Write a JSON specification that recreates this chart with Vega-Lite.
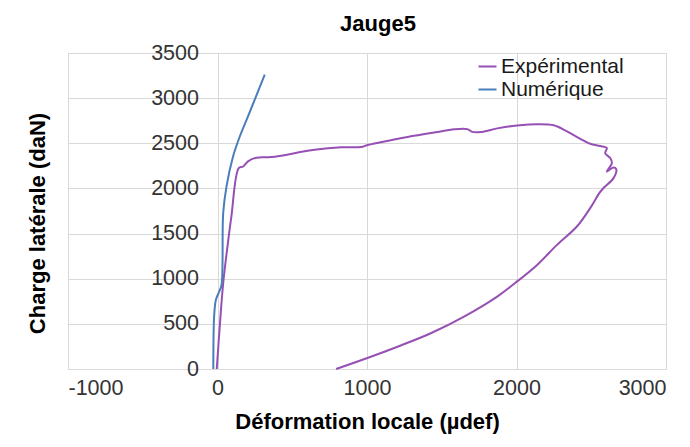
{
  "$schema": "https://vega.github.io/schema/vega-lite/v6.json",
  "width": 598,
  "height": 316,
  "autosize": {"type": "none"},
  "padding": {"left": 68, "top": 53, "right": 24, "bottom": 78},
  "background": "white",
  "title": {"text": "Jauge5", "font": "Liberation Sans", "fontSize": 22, "fontWeight": "bold", "color": "#000000", "offset": 6, "dx": 11},
  "data": {"values": [
    {"s": "Expérimental", "i": 0, "x": -5, "y": 0},
    {"s": "Expérimental", "i": 1, "x": 15, "y": 470},
    {"s": "Expérimental", "i": 2, "x": 38, "y": 950},
    {"s": "Expérimental", "i": 3, "x": 70, "y": 1400},
    {"s": "Expérimental", "i": 4, "x": 93, "y": 1690},
    {"s": "Expérimental", "i": 5, "x": 142, "y": 2225},
    {"s": "Expérimental", "i": 6, "x": 171, "y": 2243},
    {"s": "Expérimental", "i": 7, "x": 204, "y": 2300},
    {"s": "Expérimental", "i": 8, "x": 260, "y": 2340},
    {"s": "Expérimental", "i": 9, "x": 360, "y": 2347},
    {"s": "Expérimental", "i": 10, "x": 649, "y": 2428},
    {"s": "Expérimental", "i": 11, "x": 827, "y": 2455},
    {"s": "Expérimental", "i": 12, "x": 960, "y": 2458},
    {"s": "Expérimental", "i": 13, "x": 1004, "y": 2480},
    {"s": "Expérimental", "i": 14, "x": 1271, "y": 2570},
    {"s": "Expérimental", "i": 15, "x": 1493, "y": 2631},
    {"s": "Expérimental", "i": 16, "x": 1582, "y": 2655},
    {"s": "Expérimental", "i": 17, "x": 1671, "y": 2657},
    {"s": "Expérimental", "i": 18, "x": 1704, "y": 2626},
    {"s": "Expérimental", "i": 19, "x": 1760, "y": 2624},
    {"s": "Expérimental", "i": 20, "x": 1871, "y": 2665},
    {"s": "Expérimental", "i": 21, "x": 2004, "y": 2697},
    {"s": "Expérimental", "i": 22, "x": 2138, "y": 2712},
    {"s": "Expérimental", "i": 23, "x": 2249, "y": 2700},
    {"s": "Expérimental", "i": 24, "x": 2338, "y": 2631},
    {"s": "Expérimental", "i": 25, "x": 2427, "y": 2550},
    {"s": "Expérimental", "i": 26, "x": 2493, "y": 2495},
    {"s": "Expérimental", "i": 27, "x": 2560, "y": 2470},
    {"s": "Expérimental", "i": 28, "x": 2604, "y": 2447},
    {"s": "Expérimental", "i": 29, "x": 2593, "y": 2391},
    {"s": "Expérimental", "i": 30, "x": 2627, "y": 2336},
    {"s": "Expérimental", "i": 31, "x": 2638, "y": 2280},
    {"s": "Expérimental", "i": 32, "x": 2604, "y": 2187},
    {"s": "Expérimental", "i": 33, "x": 2649, "y": 2232},
    {"s": "Expérimental", "i": 34, "x": 2667, "y": 2214},
    {"s": "Expérimental", "i": 35, "x": 2649, "y": 2114},
    {"s": "Expérimental", "i": 36, "x": 2585, "y": 2010},
    {"s": "Expérimental", "i": 37, "x": 2555, "y": 1950},
    {"s": "Expérimental", "i": 38, "x": 2493, "y": 1782},
    {"s": "Expérimental", "i": 39, "x": 2404, "y": 1578},
    {"s": "Expérimental", "i": 40, "x": 2271, "y": 1375},
    {"s": "Expérimental", "i": 41, "x": 2138, "y": 1153},
    {"s": "Expérimental", "i": 42, "x": 1989, "y": 950},
    {"s": "Expérimental", "i": 43, "x": 1871, "y": 802},
    {"s": "Expérimental", "i": 44, "x": 1649, "y": 580},
    {"s": "Expérimental", "i": 45, "x": 1427, "y": 396},
    {"s": "Expérimental", "i": 46, "x": 1204, "y": 247},
    {"s": "Expérimental", "i": 47, "x": 998, "y": 119},
    {"s": "Expérimental", "i": 48, "x": 793, "y": 0},
    {"s": "Numérique", "i": 0, "x": -28, "y": 0},
    {"s": "Numérique", "i": 1, "x": -26, "y": 400},
    {"s": "Numérique", "i": 2, "x": -22, "y": 600},
    {"s": "Numérique", "i": 3, "x": -11, "y": 765},
    {"s": "Numérique", "i": 4, "x": 12, "y": 860},
    {"s": "Numérique", "i": 5, "x": 27, "y": 930},
    {"s": "Numérique", "i": 6, "x": 38, "y": 1725},
    {"s": "Numérique", "i": 7, "x": 60, "y": 2020},
    {"s": "Numérique", "i": 8, "x": 104, "y": 2354},
    {"s": "Numérique", "i": 9, "x": 149, "y": 2575},
    {"s": "Numérique", "i": 10, "x": 204, "y": 2797},
    {"s": "Numérique", "i": 11, "x": 316, "y": 3260}
  ]},
  "mark": {"type": "line", "strokeWidth": 2, "interpolate": "catmull-rom"},
  "encoding": {
    "x": {
      "field": "x", "type": "quantitative",
      "scale": {"domain": [-1000, 3000], "nice": false, "zero": false},
      "axis": {
        "title": "Déformation locale (µdef)",
        "values": [-1000, 0, 1000, 2000, 3000],
        "labelExpr": "'' + datum.value",
        "domain": false, "ticks": false,
        "labelPadding": 8, "titlePadding": 13
      }
    },
    "y": {
      "field": "y", "type": "quantitative",
      "scale": {"domain": [0, 3500], "nice": false},
      "axis": {
        "title": "Charge latérale (daN)",
        "values": [0, 500, 1000, 1500, 2000, 2500, 3000, 3500],
        "labelExpr": "'' + datum.value",
        "domain": false, "ticks": false,
        "offset": -149.5,
        "labelPadding": 19,
        "titleX": -180, "titleY": 170, "titleBaseline": "middle", "titleAngle": -90
      }
    },
    "color": {
      "field": "s", "type": "nominal",
      "scale": {"domain": ["Expérimental", "Numérique"], "range": ["#9650B4", "#4A7EBB"]},
      "legend": {
        "title": null, "orient": "none", "legendX": 409, "legendY": 3,
        "symbolType": "stroke", "symbolSize": 324, "symbolStrokeWidth": 2,
        "labelFontSize": 21, "labelFont": "Liberation Sans", "labelColor": "#1a1a1a",
        "labelOffset": 3, "rowPadding": 1, "padding": 0
      }
    },
    "order": {"field": "i", "type": "quantitative"}
  },
  "config": {
    "view": {"stroke": "#D9D9D9"},
    "axis": {
      "labelFont": "Liberation Sans", "labelFontSize": 21.5, "labelColor": "#333333",
      "titleFont": "Liberation Sans", "titleFontSize": 22, "titleFontWeight": "bold", "titleColor": "#000000",
      "gridColor": "#D9D9D9", "gridWidth": 1
    }
  }
}
